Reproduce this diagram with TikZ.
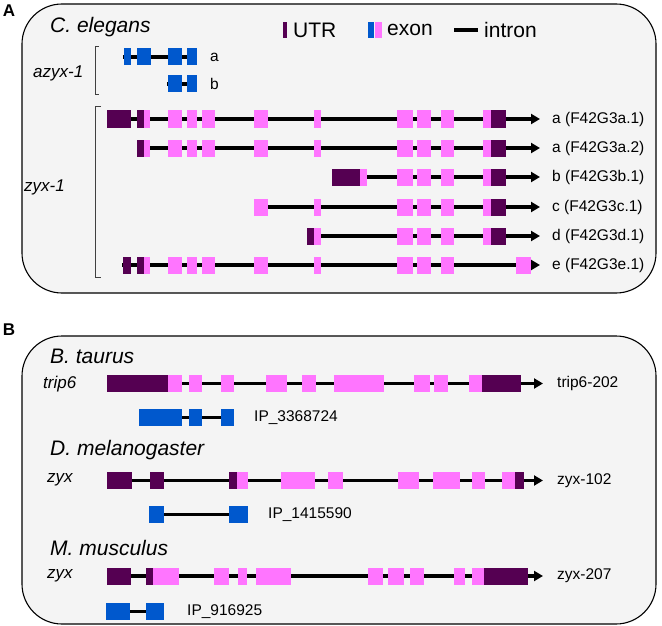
\documentclass[tikz,border=0pt]{standalone}
\usepackage{fontspec}
\setmainfont{Liberation Sans}
\usetikzlibrary{arrows.meta}
\definecolor{utr}{RGB}{85,0,82}
\definecolor{exn}{RGB}{255,117,255}
\definecolor{ipb}{RGB}{0,88,205}
\definecolor{panelbg}{RGB}{244,244,244}
\newcommand\fs[1]{\fontsize{#1}{#1}\selectfont}
\newcommand\bx[4]{\fill[#1] (#2,#4-8.5) rectangle (#3,#4+8.5);}
\begin{document}
\begin{tikzpicture}[x=1pt,y=-1pt,
  panel/.style={draw=black,line width=1.1pt,fill=panelbg,rounded corners=40pt},
  intron/.style={line width=3.3pt,black},
  tx/.style={line width=3.3pt,black,-{Triangle[length=9pt,width=10pt]}},
  lbl/.style={anchor=west,inner sep=0pt,font=\fs{15.5}},
  sp/.style={anchor=west,inner sep=0pt,font=\fs{21}\itshape},
  gn/.style={anchor=west,inner sep=0pt,font=\fs{17}\itshape},
  leg/.style={anchor=west,inner sep=0pt,font=\fs{21}},
  plab/.style={inner sep=0pt,font=\fs{17}\bfseries},
  brk/.style={draw=black!75,line width=1pt}]
\useasboundingbox (0,0) rectangle (662,626);
% ---------- Panel A ----------
\node[plab] (labA) at (9,11) {A};
\draw[panel] (22,4) rectangle (656,293);
\node[sp] (cel) at (50,27) {C. elegans};
% legend
\fill[utr] (283,22) rectangle (287,38);
\node[leg] (lutr) at (293,30) {UTR};
\fill[ipb] (368,22) rectangle (374,38);
\fill[exn] (375,22) rectangle (382,38);
\node[leg] (lexon) at (387,30) {exon};
\draw[intron] (454,30) -- (478,30);
\node[leg] (lintron) at (484,30) {intron};
% azyx-1
\node[gn] (azyx) at (33,73) {azyx-1};
\draw[brk] (99,47) -- (95,47) -- (95,95) -- (99,95);
\draw[intron] (123,57) -- (197,57);
\bx{ipb}{124}{131}{57}\bx{ipb}{137}{151}{57}\bx{ipb}{168}{182}{57}\bx{ipb}{187}{197}{57}
\node[lbl] (aa) at (210,57) {a};
\draw[intron] (167,84) -- (197,84);
\bx{ipb}{168}{182}{84}\bx{ipb}{187}{197}{84}
\node[lbl] (ab) at (210,84) {b};
% zyx-1
\node[gn] (zyx1) at (24,187) {zyx-1};
\draw[brk] (101,107) -- (95,107) -- (95,277) -- (101,277);
% row a.1
\draw[tx] (107,119) -- (540,119);
\bx{utr}{107}{131}{119}\bx{utr}{137}{144}{119}
\foreach \a/\b in {144/150,168/182,187/197,202/215,254/268,314/321,397/413,417/431,441/454,483/491}{\bx{exn}{\a}{\b}{119}}
\bx{utr}{491}{506}{119}
\node[lbl] (ta1) at (552,119) {a (F42G3a.1)};
% row a.2
\draw[tx] (137,148) -- (540,148);
\bx{utr}{137}{144}{148}
\foreach \a/\b in {144/150,168/182,187/197,202/215,254/268,314/321,397/413,417/431,441/454,483/491}{\bx{exn}{\a}{\b}{148}}
\bx{utr}{491}{506}{148}
\node[lbl] (ta2) at (552,148) {a (F42G3a.2)};
% row b.1
\draw[tx] (332,177) -- (540,177);
\bx{utr}{332}{360}{177}
\foreach \a/\b in {360/367,397/413,417/431,441/454,483/491}{\bx{exn}{\a}{\b}{177}}
\bx{utr}{491}{506}{177}
\node[lbl] (tb1) at (552,177) {b (F42G3b.1)};
% row c.1
\draw[tx] (254,207) -- (540,207);
\foreach \a/\b in {254/268,314/321,397/413,417/431,441/454,483/491}{\bx{exn}{\a}{\b}{207}}
\bx{utr}{491}{506}{207}
\node[lbl] (tc1) at (552,207) {c (F42G3c.1)};
% row d.1
\draw[tx] (307,236) -- (540,236);
\bx{utr}{307}{314}{236}
\foreach \a/\b in {314/321,397/413,417/431,441/454,483/491}{\bx{exn}{\a}{\b}{236}}
\bx{utr}{491}{506}{236}
\node[lbl] (td1) at (552,236) {d (F42G3d.1)};
% row e.1
\draw[tx] (122,265) -- (540,265);
\bx{utr}{123}{131}{265}\bx{utr}{137}{144}{265}
\foreach \a/\b in {144/150,168/182,187/197,202/215,254/268,314/321,397/413,417/431,441/454,516/531}{\bx{exn}{\a}{\b}{265}}
\node[lbl] (te1) at (552,265) {e (F42G3e.1)};
% ---------- Panel B ----------
\node[plab] (labB) at (9,330) {B};
\draw[panel] (22,336) rectangle (656,624);
% B. taurus
\node[sp] (bt) at (50,356) {B. taurus};
\node[gn] (trip6) at (43,384) {trip6};
\draw[tx] (107,383.5) -- (543,383.5);
\bx{utr}{107}{168}{383.5}
\foreach \a/\b in {168/182,189/202,221/234,266/287,302/316,334/384,414/430,434/448,469/482}{\bx{exn}{\a}{\b}{383.5}}
\bx{utr}{482}{521}{383.5}
\node[lbl] (t202) at (557,383.5) {trip6-202};
\draw[intron] (139,417.5) -- (234,417.5);
\bx{ipb}{139}{182}{417.5}\bx{ipb}{189}{202}{417.5}\bx{ipb}{221}{234}{417.5}
\node[lbl] (ip1) at (254,417.5) {IP\_3368724};
% D. melanogaster
\node[sp] (dm) at (50,450) {D. melanogaster};
\node[gn] (zyxd) at (47,480) {zyx};
\draw[tx] (107,480.5) -- (543,480.5);
\bx{utr}{107}{132}{480.5}\bx{utr}{150}{164}{480.5}\bx{utr}{229}{237}{480.5}
\foreach \a/\b in {237/248,281/315,328/343,398/419,433/460,472/485,502/515}{\bx{exn}{\a}{\b}{480.5}}
\bx{utr}{515}{524}{480.5}
\node[lbl] (t102) at (557,480.5) {zyx-102};
\draw[intron] (149,514.5) -- (248,514.5);
\bx{ipb}{149}{164}{514.5}\bx{ipb}{229}{248}{514.5}
\node[lbl] (ip2) at (268,514.5) {IP\_1415590};
% M. musculus
\node[sp] (mm) at (50,548) {M. musculus};
\node[gn] (zyxm) at (47,576) {zyx};
\draw[tx] (107,576) -- (543,576);
\bx{utr}{107}{131}{576}\bx{utr}{146}{153}{576}
\foreach \a/\b in {153/179,214/229,238/247,256/291,368/383,388/404,410/424,454/465,472/484}{\bx{exn}{\a}{\b}{576}}
\bx{utr}{484}{528}{576}
\node[lbl] (t207) at (557,576) {zyx-207};
\draw[intron] (106,611.5) -- (164,611.5);
\bx{ipb}{106}{130}{611.5}\bx{ipb}{146}{164}{611.5}
\node[lbl] (ip3) at (187,611.5) {IP\_916925};
\end{tikzpicture}
\end{document}
